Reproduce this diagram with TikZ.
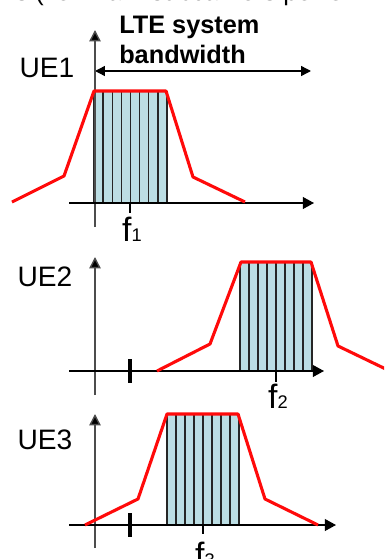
\documentclass[tikz,border=0pt]{standalone}
\usepackage{fontspec}
\setmainfont{Liberation Sans}
\usetikzlibrary{arrows.meta, positioning}
\definecolor{scblue}{RGB}{188,222,228}
\definecolor{maskred}{RGB}{255,10,10}

\begin{document}
\begin{tikzpicture}[
  x=0.025cm, y=-0.025cm,
  yaxis/.style={black!70, line width=1pt, -{Triangle[length=8pt, width=8pt, fill=black]}},
  xaxis/.style={black, line width=1pt, -{Triangle[length=8pt, width=8.5pt]}},
  bwarr/.style={black, line width=1pt, {Triangle[length=7pt, width=7pt]}-{Triangle[length=7pt, width=7pt]}},
  mask/.style={maskred, line width=2.2pt, line join=round},
  band/.style={fill=scblue, draw=none},
  sub/.style={black!85, line width=0.9pt},
  guard/.style={black, line width=2.4pt},
  tick/.style={black, line width=0.9pt},
  uelabel/.style={font=\fontsize{20}{20}\selectfont, inner sep=0pt},
  flabel/.style={font=\fontsize{24}{24}\selectfont, inner sep=0pt, anchor=base},
  bwlabel/.style={font=\bfseries\fontsize{18}{18}\selectfont, inner sep=0pt, anchor=base west},
]
  \useasboundingbox (0,0) rectangle (384,559);
  \clip (0,0) rectangle (384,559);

  \node[anchor=base west, inner sep=0pt, font=\fontsize{18}{18}\selectfont] (note) at (-48,0)
    {of RBs (i.e. max. subcarriers per UE};

  % UE1
  \node[uelabel] (ue1) at (47,68) {UE1};
  \node[bwlabel] (bw1) at (119,33) {LTE system};
  \node[bwlabel] (bw2) at (119,63) {bandwidth};
  \coordinate (bwl) at (95,71);
  \coordinate (bwr) at (311,71);
  \draw[bwarr] (bwl) -- (bwr);

  \fill[band] (94,91) rectangle (167,203);
  \foreach \i in {0,...,8}
    \draw[sub] ({94+\i*9.125},91) -- ({94+\i*9.125},203);
  \coordinate (y1b) at (95,227);
  \coordinate (y1t) at (95,30);
  \coordinate (x1l) at (69,203);
  \coordinate (x1r) at (314,203);
  \draw[yaxis] (y1b) -- (y1t);
  \draw[xaxis] (x1l) -- (x1r);
  \draw[mask] (12,202) -- (64,176) -- (94,91) -- (166,91) -- (193,177) -- (245,202);
  \draw[tick] (130,203) -- (130,213);
  \node[flabel] (f1) at (132,241) {f{\fontsize{13}{13}\selectfont 1}};

  % UE2
  \node[uelabel] (ue2) at (45,277) {UE2};
  \fill[band] (240,262) rectangle (312,371);
  \foreach \i in {0,...,8}
    \draw[sub] ({240+\i*9},262) -- ({240+\i*9},371);
  \coordinate (y2b) at (95,395);
  \coordinate (y2t) at (95,257);
  \coordinate (x2l) at (69,371);
  \coordinate (x2r) at (324,371);
  \draw[yaxis] (y2b) -- (y2t);
  \draw[xaxis] (x2l) -- (x2r);
  \draw[guard] (130,359) -- (130,383);
  \draw[mask] (157,371) -- (210,344) -- (241,262) -- (311,262) -- (338,346) -- (394,373);
  \draw[tick] (276,371) -- (276,382);
  \node[flabel] (f2) at (278,408) {f{\fontsize{13}{13}\selectfont 2}};

  % UE3
  \node[uelabel] (ue3) at (45,440) {UE3};
  \fill[band] (167,414) rectangle (239,525);
  \foreach \i in {0,...,8}
    \draw[sub] ({167+\i*9},414) -- ({167+\i*9},525);
  \coordinate (y3b) at (95,548);
  \coordinate (y3t) at (95,414);
  \coordinate (x3l) at (69,525);
  \coordinate (x3r) at (336,525);
  \draw[yaxis] (y3b) -- (y3t);
  \draw[xaxis] (x3l) -- (x3r);
  \draw[guard] (130,513) -- (130,537);
  \draw[mask] (85,525) -- (138,499) -- (167,414) -- (238,414) -- (265,499) -- (318,525);
  \draw[tick] (203,525) -- (203,534);
  \node[flabel] (f3) at (205,566) {f{\fontsize{13}{13}\selectfont 3}};
\end{tikzpicture}
\end{document}
